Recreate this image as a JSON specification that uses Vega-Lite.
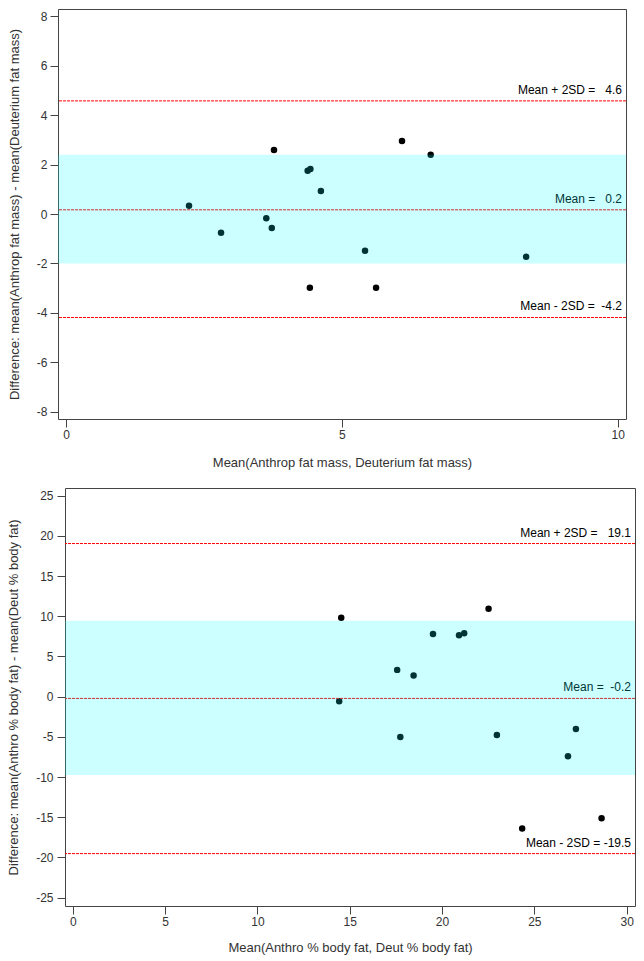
{
  "$schema": "https://vega.github.io/schema/vega-lite/v6.json",
  "padding": {"left": 6, "top": 8, "right": 5, "bottom": 5},
  "columns": 2,
  "align": "none",
  "spacing": {"row": 17, "column": 0},
  "background": "white",
  "config": {
    "font": "Liberation Sans",
    "view": {"stroke": "#444444", "strokeWidth": 1},
    "axis": {
      "domain": false,
      "grid": false,
      "tickColor": "#444444",
      "tickSize": 8,
      "labelFont": "Liberation Sans",
      "labelFontSize": 12,
      "labelColor": "#333333",
      "labelPadding": 3,
      "labelExpr": "'' + datum.value",
      "titleFont": "Liberation Sans",
      "titleFontSize": 13,
      "titleFontWeight": "normal",
      "titleColor": "#333333"
    },
    "axisY": {"minExtent": 0},
    "axisX": {"minExtent": 0}
  },
  "datasets": {
    "empty": [],
    "fatPoints": [
      {"x": 2.23, "y": 0.33}, {"x": 2.81, "y": -0.76}, {"x": 3.77, "y": 2.59},
      {"x": 3.63, "y": -0.17}, {"x": 3.73, "y": -0.57}, {"x": 4.38, "y": 1.75},
      {"x": 4.43, "y": 1.82}, {"x": 4.42, "y": -2.99}, {"x": 4.62, "y": 0.93},
      {"x": 6.09, "y": 2.96}, {"x": 6.61, "y": 2.40}, {"x": 5.42, "y": -1.49},
      {"x": 5.62, "y": -2.99}, {"x": 8.34, "y": -1.73}
    ],
    "fatLines": [
      {"y": 4.58, "label": "Mean + 2SD =\u00a0\u00a0\u00a04.6"},
      {"y": 0.17, "label": "Mean =\u00a0\u00a0\u00a00.2"},
      {"y": -4.19, "label": "Mean - 2SD =\u00a0\u00a0-4.2"}
    ],
    "fatBand": [{"y": -2.0, "y2": 2.4}],
    "pctPoints": [
      {"x": 14.54, "y": 9.81}, {"x": 14.43, "y": -0.57}, {"x": 17.57, "y": 3.33},
      {"x": 18.46, "y": 2.63}, {"x": 17.74, "y": -5.01}, {"x": 19.51, "y": 7.78},
      {"x": 20.92, "y": 7.65}, {"x": 21.20, "y": 7.90}, {"x": 22.52, "y": 10.93},
      {"x": 22.97, "y": -4.76}, {"x": 27.25, "y": -4.02}, {"x": 26.82, "y": -7.42},
      {"x": 24.34, "y": -16.42}, {"x": 28.64, "y": -15.14}
    ],
    "pctLines": [
      {"y": 19.05, "label": "Mean + 2SD =\u00a0\u00a0\u00a019.1"},
      {"y": -0.22, "label": "Mean =\u00a0\u00a0-0.2"},
      {"y": -19.53, "label": "Mean - 2SD =\u00a0-19.5"}
    ],
    "pctBand": [{"y": -9.75, "y2": 9.45}]
  },
  "concat": [
    {
      "width": 1,
      "height": 1,
      "view": {"stroke": null},
      "data": {"name": "empty"},
      "mark": {"type": "point", "opacity": 0},
      "encoding": {}
    },
    {
      "width": 568,
      "height": 410,
      "encoding": {
        "y": {
          "field": "y",
          "type": "quantitative",
          "scale": {"domain": [-8.3, 8.3], "nice": false, "zero": false},
          "axis": {"values": [-8, -6, -4, -2, 0, 2, 4, 6, 8], "titlePadding": 15, "labelPadding": 3},
          "title": "Difference: mean(Anthrop fat mass) - mean(Deuterium fat mass)"
        }
      },
      "layer": [
        {
          "data": {"name": "fatPoints"},
          "mark": {"type": "circle", "size": 42, "opacity": 1, "color": "#000000"},
          "encoding": {
            "x": {
              "field": "x",
              "type": "quantitative",
              "scale": {"domain": [-0.145, 10.15], "nice": false, "zero": false},
              "axis": {"values": [0, 5, 10], "titlePadding": 16, "labelPadding": 2},
              "title": "Mean(Anthrop fat mass, Deuterium fat mass)"
            }
          }
        },
        {
          "data": {"name": "fatLines"},
          "mark": {"type": "rule", "color": "#ff0000", "strokeWidth": 1, "strokeDash": [3, 1]},
          "encoding": {}
        },
        {
          "data": {"name": "fatLines"},
          "mark": {"type": "text", "align": "right", "baseline": "alphabetic", "dx": -4, "dy": -7, "fontSize": 12, "color": "#000000", "font": "Liberation Sans"},
          "encoding": {
            "x": {"datum": 10.15, "type": "quantitative"},
            "text": {"field": "label"}
          }
        },
        {
          "data": {"name": "fatBand"},
          "mark": {"type": "rect", "color": "#00ffff", "opacity": 0.2},
          "encoding": {"y2": {"field": "y2"}}
        }
      ]
    },
    {
      "width": 1,
      "height": 1,
      "view": {"stroke": null},
      "data": {"name": "empty"},
      "mark": {"type": "point", "opacity": 0},
      "encoding": {}
    },
    {
      "width": 570,
      "height": 418,
      "encoding": {
        "y": {
          "field": "y",
          "type": "quantitative",
          "scale": {"domain": [-26.05, 25.96], "nice": false, "zero": false},
          "axis": {"values": [-25, -20, -15, -10, -5, 0, 5, 10, 15, 20, 25], "titlePadding": 15, "labelPadding": 4},
          "title": "Difference: mean(Anthro % body fat) - mean(Deut % body fat)"
        }
      },
      "layer": [
        {
          "data": {"name": "pctPoints"},
          "mark": {"type": "circle", "size": 42, "opacity": 1, "color": "#000000"},
          "encoding": {
            "x": {
              "field": "x",
              "type": "quantitative",
              "scale": {"domain": [-0.42, 30.45], "nice": false, "zero": false},
              "axis": {"values": [0, 5, 10, 15, 20, 25, 30], "titlePadding": 14, "labelPadding": 2},
              "title": "Mean(Anthro % body fat, Deut % body fat)"
            }
          }
        },
        {
          "data": {"name": "pctLines"},
          "mark": {"type": "rule", "color": "#ff0000", "strokeWidth": 1, "strokeDash": [3, 1]},
          "encoding": {}
        },
        {
          "data": {"name": "pctLines"},
          "mark": {"type": "text", "align": "right", "baseline": "alphabetic", "dx": -4, "dy": -7, "fontSize": 12, "color": "#000000", "font": "Liberation Sans"},
          "encoding": {
            "x": {"datum": 30.45, "type": "quantitative"},
            "text": {"field": "label"}
          }
        },
        {
          "data": {"name": "pctBand"},
          "mark": {"type": "rect", "color": "#00ffff", "opacity": 0.2},
          "encoding": {"y2": {"field": "y2"}}
        }
      ]
    }
  ]
}
